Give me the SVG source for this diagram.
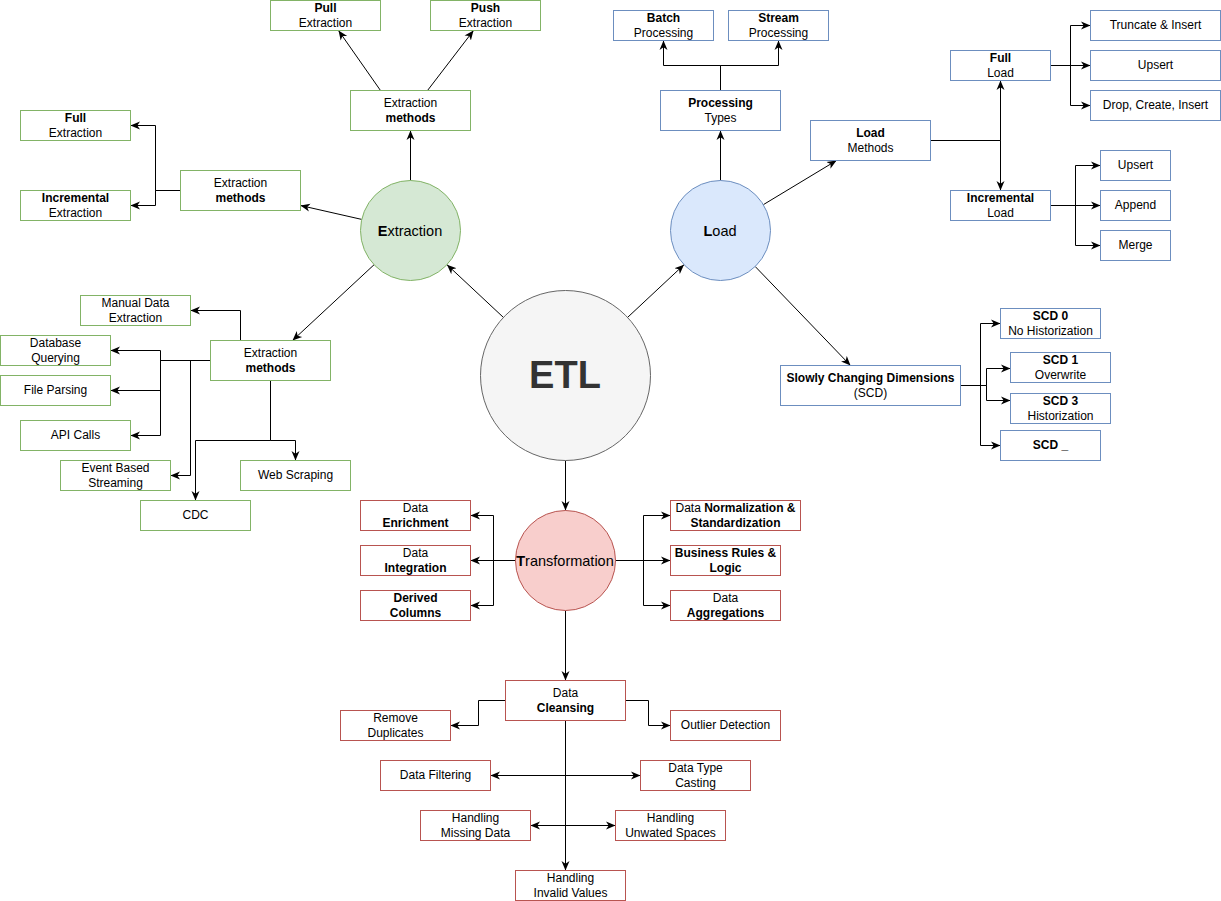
<svg xmlns="http://www.w3.org/2000/svg" width="1221" height="901" viewBox="0 0 1221 901">
<defs>
<marker id="ar" viewBox="0 0 10 10" refX="10" refY="5" markerWidth="9.5" markerHeight="9.5" markerUnits="userSpaceOnUse" orient="auto-start-reverse">
<path d="M0,0.8 L10,5 L0,9.2 L2.8,5 z" fill="#000"/>
</marker>
<style>
.g{fill:#fff;stroke:#82b366;stroke-width:1}
.b{fill:#fff;stroke:#6c8ebf;stroke-width:1}
.r{fill:#fff;stroke:#b85450;stroke-width:1}
text{font-family:"Liberation Sans",Arial,sans-serif;font-size:12px;text-anchor:middle;fill:#000}
.bd{font-weight:bold}
.c{font-size:14.5px}
.e{fill:none;stroke:#000;stroke-width:1;marker-end:url(#ar)}
.e2{fill:none;stroke:#000;stroke-width:1;marker-end:url(#ar);marker-start:url(#ar)}
</style>
</defs>
<rect x="0" y="0" width="1221" height="901" fill="#fff"/>
<g transform="translate(0.5,0.5)">
<g id="connectors">
<path class="e" d="M502.9,316.9 L446.5,264.2"/>
<path class="e" d="M627.1,316.9 L683.5,264.2"/>
<path class="e" d="M565,460 V510"/>
<path class="e" d="M410,180 V130"/>
<path class="e" d="M380,90 L338,30"/>
<path class="e" d="M427,90 L473,30"/>
<path class="e" d="M361.2,218.9 L300,205"/>
<path class="e" d="M180,190 H155 V125 H130"/>
<path class="e" d="M180,190 H155 V205 H130"/>
<path class="e" d="M373.6,264.2 L292,340"/>
<path class="e" d="M240,340 V310 H190"/>
<path class="e" d="M210,360 H160 V350 H110"/>
<path class="e" d="M210,360 H160 V390 H110"/>
<path class="e" d="M210,360 H160 V435 H130"/>
<path class="e" d="M210,360 H190 V475 H170"/>
<path class="e" d="M270,380 V440 H195 V500"/>
<path class="e" d="M270,380 V440 H295 V460"/>
<path class="e" d="M720,180 V130"/>
<path class="e" d="M720,90 V65 H663 V40"/>
<path class="e" d="M720,90 V65 H778 V40"/>
<path class="e" d="M762.8,204.2 L836,160"/>
<path class="e" d="M930,140 H1000 V80"/>
<path class="e" d="M930,140 H1000 V190"/>
<path class="e" d="M1050,65 H1070 V25 H1090"/>
<path class="e" d="M1050,65 H1090"/>
<path class="e" d="M1050,65 H1070 V105 H1090"/>
<path class="e" d="M1050,205 H1075 V165 H1100"/>
<path class="e" d="M1050,205 H1100"/>
<path class="e" d="M1050,205 H1075 V245 H1100"/>
<path class="e" d="M754.7,266 L850,365"/>
<path class="e" d="M960,385 H980 V323 H1000"/>
<path class="e" d="M960,385 H980 V445 H1000"/>
<path class="e" d="M960,385 H986 V368 H1010"/>
<path class="e" d="M960,385 H986 V400 H1010"/>
<path class="e" d="M515,560 H493 V515 H470"/>
<path class="e" d="M515,560 H470"/>
<path class="e" d="M515,560 H493 V605 H470"/>
<path class="e" d="M615,560 H643 V515 H670"/>
<path class="e" d="M615,560 H670"/>
<path class="e" d="M615,560 H643 V605 H670"/>
<path class="e" d="M565,610 V680"/>
<path class="e" d="M505,700 H478 V725 H450"/>
<path class="e" d="M625,700 H648 V725 H670"/>
<path class="e2" d="M490,775 H640"/>
<path class="e2" d="M530,825 H615"/>
<path class="e" d="M565,720 V870"/>
</g>
</g>
<g transform="translate(0.5,0.5)">
<g id="etl"><circle cx="565" cy="375" r="85" fill="#f5f5f5" stroke="#666666"/></g>
<g id="extraction"><circle cx="410" cy="230" r="50" fill="#d5e8d4" stroke="#82b366"/></g>
<g id="load"><circle cx="720" cy="230" r="50" fill="#dae8fc" stroke="#6c8ebf"/></g>
<g id="transformation"><circle cx="565" cy="560" r="50" fill="#f8cecc" stroke="#b85450"/></g>
</g>
<g id="labels-circles">
<text x="565" y="388" style="font-size:38px;font-weight:bold;fill:#333333">ETL</text>
<text class="c" x="410" y="235.5"><tspan class="bd">E</tspan>xtraction</text>
<text class="c" x="720" y="235.5"><tspan class="bd">L</tspan>oad</text>
<text class="c" x="565" y="565.5"><tspan class="bd">T</tspan>ransformation</text>
</g>
<g transform="translate(0.5,0.5)">
<g id="pull"><rect class="g" x="270" y="0" width="110" height="30"/><text x="325" y="11"><tspan class="bd">Pull</tspan><tspan x="325" y="26">Extraction</tspan></text></g>
<g id="push"><rect class="g" x="430" y="0" width="110" height="30"/><text x="485" y="11"><tspan class="bd">Push</tspan><tspan x="485" y="26">Extraction</tspan></text></g>
<g id="ext-methods-top"><rect class="g" x="350" y="90" width="120" height="40"/><text x="410" y="106">Extraction<tspan class="bd" x="410" y="121">methods</tspan></text></g>
<g id="full-ext"><rect class="g" x="20" y="110" width="110" height="30"/><text x="75" y="121"><tspan class="bd">Full</tspan><tspan x="75" y="136">Extraction</tspan></text></g>
<g id="inc-ext"><rect class="g" x="20" y="190" width="110" height="30"/><text x="75" y="201"><tspan class="bd">Incremental</tspan><tspan x="75" y="216">Extraction</tspan></text></g>
<g id="ext-methods-left"><rect class="g" x="180" y="170" width="120" height="40"/><text x="240" y="186">Extraction<tspan class="bd" x="240" y="201">methods</tspan></text></g>
<g id="manual"><rect class="g" x="80" y="295" width="110" height="30"/><text x="135" y="306">Manual Data<tspan x="135" y="321">Extraction</tspan></text></g>
<g id="dbq"><rect class="g" x="0" y="335" width="110" height="30"/><text x="55" y="346">Database<tspan x="55" y="361">Querying</tspan></text></g>
<g id="file"><rect class="g" x="0" y="375" width="110" height="30"/><text x="55" y="393.5">File Parsing</text></g>
<g id="api"><rect class="g" x="20" y="420" width="110" height="30"/><text x="75" y="438.5">API Calls</text></g>
<g id="event"><rect class="g" x="60" y="460" width="110" height="30"/><text x="115" y="471">Event Based<tspan x="115" y="486">Streaming</tspan></text></g>
<g id="cdc"><rect class="g" x="140" y="500" width="110" height="30"/><text x="195" y="518.5">CDC</text></g>
<g id="web"><rect class="g" x="240" y="460" width="110" height="30"/><text x="295" y="478.5">Web Scraping</text></g>
<g id="ext-methods-low"><rect class="g" x="210" y="340" width="120" height="40"/><text x="270" y="356">Extraction<tspan class="bd" x="270" y="371">methods</tspan></text></g>

<g id="batch"><rect class="b" x="613" y="10" width="100" height="30"/><text x="663" y="21"><tspan class="bd">Batch</tspan><tspan x="663" y="36">Processing</tspan></text></g>
<g id="stream"><rect class="b" x="728" y="10" width="100" height="30"/><text x="778" y="21"><tspan class="bd">Stream</tspan><tspan x="778" y="36">Processing</tspan></text></g>
<g id="ptypes"><rect class="b" x="660" y="90" width="120" height="40"/><text x="720" y="106"><tspan class="bd">Processing</tspan><tspan x="720" y="121">Types</tspan></text></g>
<g id="lmethods"><rect class="b" x="810" y="120" width="120" height="40"/><text x="870" y="136"><tspan class="bd">Load</tspan><tspan x="870" y="151">Methods</tspan></text></g>
<g id="fullload"><rect class="b" x="950" y="50" width="100" height="30"/><text x="1000" y="61"><tspan class="bd">Full</tspan><tspan x="1000" y="76">Load</tspan></text></g>
<g id="incload"><rect class="b" x="950" y="190" width="100" height="30"/><text x="1000" y="201"><tspan class="bd">Incremental</tspan><tspan x="1000" y="216">Load</tspan></text></g>
<g id="trunc"><rect class="b" x="1090" y="10" width="130" height="30"/><text x="1155" y="28.5">Truncate &amp; Insert</text></g>
<g id="upsert-full"><rect class="b" x="1090" y="50" width="130" height="30"/><text x="1155" y="68.5">Upsert</text></g>
<g id="drop"><rect class="b" x="1090" y="90" width="130" height="30"/><text x="1155" y="108.5">Drop, Create, Insert</text></g>
<g id="upsert-inc"><rect class="b" x="1100" y="150" width="70" height="30"/><text x="1135" y="168.5">Upsert</text></g>
<g id="append"><rect class="b" x="1100" y="190" width="70" height="30"/><text x="1135" y="208.5">Append</text></g>
<g id="merge"><rect class="b" x="1100" y="230" width="70" height="30"/><text x="1135" y="248.5">Merge</text></g>
<g id="scd"><rect class="b" x="780" y="365" width="180" height="40"/><text x="870" y="381"><tspan class="bd">Slowly Changing Dimensions</tspan><tspan x="870" y="396">(SCD)</tspan></text></g>
<g id="scd0"><rect class="b" x="1000" y="308" width="100" height="30"/><text x="1050" y="319"><tspan class="bd">SCD 0</tspan><tspan x="1050" y="334">No Historization</tspan></text></g>
<g id="scd1"><rect class="b" x="1010" y="352" width="100" height="30"/><text x="1060" y="363"><tspan class="bd">SCD 1</tspan><tspan x="1060" y="378">Overwrite</tspan></text></g>
<g id="scd3"><rect class="b" x="1010" y="393" width="100" height="30"/><text x="1060" y="404"><tspan class="bd">SCD 3</tspan><tspan x="1060" y="419">Historization</tspan></text></g>
<g id="scd-x"><rect class="b" x="1000" y="430" width="100" height="30"/><text class="bd" x="1050" y="448.5">SCD _</text></g>

<g id="enrich"><rect class="r" x="360" y="500" width="110" height="30"/><text x="415" y="511">Data<tspan class="bd" x="415" y="526">Enrichment</tspan></text></g>
<g id="integ"><rect class="r" x="360" y="545" width="110" height="30"/><text x="415" y="556">Data<tspan class="bd" x="415" y="571">Integration</tspan></text></g>
<g id="derived"><rect class="r" x="360" y="590" width="110" height="30"/><text class="bd" x="415" y="601">Derived<tspan x="415" y="616">Columns</tspan></text></g>
<g id="norm"><rect class="r" x="670" y="500" width="130" height="30"/><text x="735" y="511">Data <tspan class="bd">Normalization &amp;</tspan><tspan class="bd" x="735" y="526">Standardization</tspan></text></g>
<g id="business"><rect class="r" x="670" y="545" width="110" height="30"/><text class="bd" x="725" y="556">Business Rules &amp;<tspan x="725" y="571">Logic</tspan></text></g>
<g id="aggr"><rect class="r" x="670" y="590" width="110" height="30"/><text x="725" y="601">Data<tspan class="bd" x="725" y="616">Aggregations</tspan></text></g>
<g id="cleansing"><rect class="r" x="505" y="680" width="120" height="40"/><text x="565" y="696">Data<tspan class="bd" x="565" y="711">Cleansing</tspan></text></g>
<g id="remove"><rect class="r" x="340" y="710" width="110" height="30"/><text x="395" y="721">Remove<tspan x="395" y="736">Duplicates</tspan></text></g>
<g id="outlier"><rect class="r" x="670" y="710" width="110" height="30"/><text x="725" y="728.5">Outlier Detection</text></g>
<g id="filter"><rect class="r" x="380" y="760" width="110" height="30"/><text x="435" y="778.5">Data Filtering</text></g>
<g id="casting"><rect class="r" x="640" y="760" width="110" height="30"/><text x="695" y="771">Data Type<tspan x="695" y="786">Casting</tspan></text></g>
<g id="missing"><rect class="r" x="420" y="810" width="110" height="30"/><text x="475" y="821">Handling<tspan x="475" y="836">Missing Data</tspan></text></g>
<g id="spaces"><rect class="r" x="615" y="810" width="110" height="30"/><text x="670" y="821">Handling<tspan x="670" y="836">Unwated Spaces</tspan></text></g>
<g id="invalid"><rect class="r" x="515" y="870" width="110" height="30"/><text x="570" y="881">Handling<tspan x="570" y="896">Invalid Values</tspan></text></g>
</g>
</svg>
